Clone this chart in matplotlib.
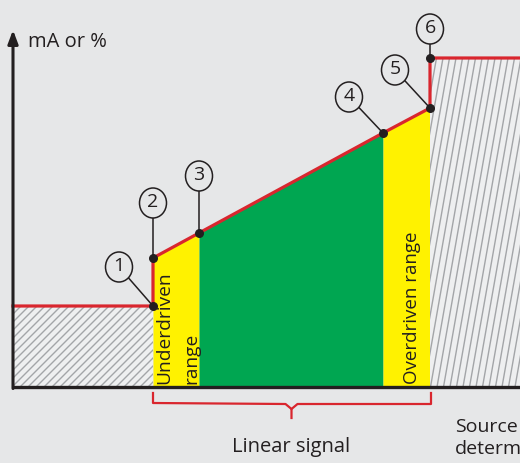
import numpy as np
import matplotlib
matplotlib.use("Agg")
import matplotlib.pyplot as plt
from matplotlib.patches import Ellipse, Rectangle

plt.rcParams["font.family"] = ["Open Sans", "DejaVu Sans"]

# signal curve (input on x, output on y, arbitrary units)
sig_x = [0, 140, 140, 186, 370, 417, 417, 520]
sig_y = [81, 81, 129, 154, 254, 279, 329, 329]

# numbered points on the curve
pt_labels = ["1", "2", "3", "4", "5", "6"]
pt_x = [140, 140, 186, 370, 417, 417]
pt_y = [81, 129, 154, 254, 279, 329]

# where the numbered bubbles sit
bub_x = [106, 140, 186, 336, 382, 417]
bub_y = [120, 184, 211, 290, 317, 358]

BG = "#e6e7e8"
RED = "#d9262e"
GREEN = "#00a651"
YELLOW = "#fff200"
HATCH = "#a3a5a8"
INK = "#231f20"

fig = plt.figure(figsize=(5.2, 4.63), dpi=100, facecolor=BG)
ax = fig.add_axes([0, 0, 1, 1])
ax.set_facecolor(BG)
ax.set_xlim(-13, 507)
ax.set_ylim(-76, 387)
ax.axis("off")


def line_y(x):
    return np.interp(x, sig_x[2:6], sig_y[2:6])


# coloured ranges under the linear part
x1, x2, x3, x4 = pt_x[1], pt_x[2], pt_x[3], pt_x[4]
for a, b, c in [(x1, x2, YELLOW), (x2, x3, GREEN), (x3, x4, YELLOW)]:
    xs = np.array([a, b])
    ax.fill_between(xs, 0, line_y(xs), color=c, lw=0, zorder=1)


def hatch_box(x0, y0, w, h, angle, step):
    box = Rectangle((x0, y0), w, h, facecolor="#eeeff0", edgecolor="none", zorder=1)
    ax.add_patch(box)
    dx = h / np.tan(np.radians(angle))
    for s in np.arange(x0 - dx - step, x0 + w + step, step):
        ln, = ax.plot([s, s + dx], [y0, y0 + h], color=HATCH, lw=1.0, zorder=1.5)
        ln.set_clip_path(box)


hatch_box(0, 0, pt_x[0], pt_y[0], 45, 8)
hatch_box(pt_x[5], 0, 520 - pt_x[5], pt_y[5], 80, 6.5)

# axes
ax.plot([0, 520], [0, 0], color=INK, lw=2.4, zorder=4, solid_capstyle="butt")
ax.annotate("", xy=(0, 357), xytext=(0, -1.5),
            arrowprops=dict(arrowstyle="-|>,head_length=0.8,head_width=0.3",
                            color=INK, lw=2.2, shrinkA=0, shrinkB=0),
            zorder=4)
ax.text(15, 345, "mA or %", fontsize=14.5, color=INK, va="center", ha="left")

# signal
ax.plot(sig_x, sig_y, color=RED, lw=2.3, zorder=3, solid_joinstyle="miter")

# numbered callouts
for lab, px, py, bx, by in zip(pt_labels, pt_x, pt_y, bub_x, bub_y):
    ax.plot([px, bx], [py, by], color=INK, lw=1.1, zorder=5)
    ax.add_patch(Ellipse((bx, by), 27, 30, facecolor=BG, edgecolor=INK,
                         lw=1.1, zorder=6))
    ax.text(bx, by + 1, lab, fontsize=14, ha="center", va="center", color=INK, zorder=7)
ax.scatter(pt_x, pt_y, s=30, color=INK, zorder=8)

# range labels
ax.text(151, 3, "Underdriven", rotation=90, fontsize=13.8, ha="center", va="bottom",
        color=INK, zorder=4)
ax.text(178, 3, "range", rotation=90, fontsize=13.8, ha="center", va="bottom",
        color=INK, zorder=4)
ax.text(399, 3, "Overdriven range", rotation=90, fontsize=13.5, ha="center", va="bottom",
        color=INK, zorder=4)

# bracket under the linear signal
mid = (pt_x[1] + pt_x[4]) / 2
ax.plot([pt_x[1], pt_x[1], mid - 6, mid, mid], [-6, -16, -17, -22, -31],
        color=RED, lw=1.6, zorder=3)
ax.plot([mid, mid + 6, pt_x[4] + 1, pt_x[4] + 1], [-22, -17, -17, -6],
        color=RED, lw=1.6, zorder=3)

ax.text(mid, -60, "Linear signal", fontsize=14.5, ha="center", va="center", color=INK)
ax.text(442, -51, "Source\ndetermined", fontsize=14, ha="left", va="center",
        linespacing=1.3, color=INK)

fig.savefig("out.png", dpi=100, facecolor=BG)
